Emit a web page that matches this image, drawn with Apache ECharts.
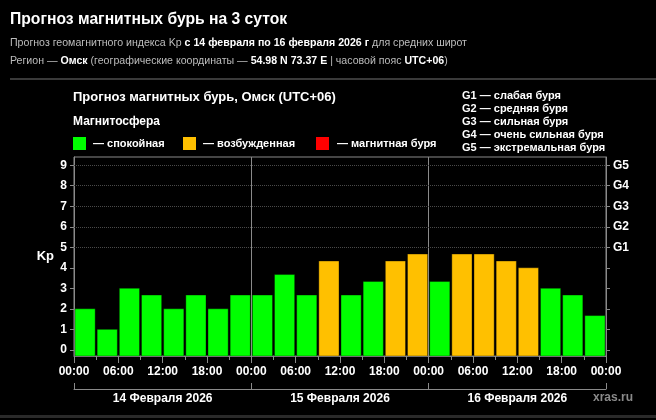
<!DOCTYPE html>
<html>
<head>
<meta charset="utf-8">
<script src="https://cdn.jsdelivr.net/npm/echarts@6/dist/echarts.min.js"></script>
<style>
  html, body { margin: 0; padding: 0; background: #000; }
  #chart { width: 656px; height: 420px; }
</style>
</head>
<body>
<div id="chart"></div>
<script>
// начало каждого 3-часового интервала (часы от 14.02 00:00)
const slotHours = [0, 3, 6, 9, 12, 15, 18, 21, 24, 27, 30, 33, 36, 39, 42, 45, 48, 51, 54, 57, 60, 63, 66, 69];
// прогноз Kp
const kpValues = [
  2, 1, 3, 2.67, 2, 2.67, 2, 2.67,
  2.67, 3.67, 2.67, 4.33, 2.67, 3.33, 4.33, 4.67,
  3.33, 4.67, 4.67, 4.33, 4, 3, 2.67, 1.67
];
const days = ['14 Февраля 2026', '15 Февраля 2026', '16 Февраля 2026'];
const kpTicks = [0, 1, 2, 3, 4, 5, 6, 7, 8, 9];
const gTicks = [5, 6, 7, 8, 9];
const gNames = ['G1', 'G2', 'G3', 'G4', 'G5'];
const daySplits = [24, 48];
const gLegend = [
  'G1 — слабая буря',
  'G2 — средняя буря',
  'G3 — сильная буря',
  'G4 — очень сильная буря',
  'G5 — экстремальная буря'
];

const Y_MIN = -0.3, Y_MAX = 9.4;
const FONT = '"Liberation Sans", Arial, sans-serif';
const GREEN = '#00ff00', ORANGE = '#ffc000', RED = '#ff0000';
const AXIS = '#8a8a8a';

function levelColor(v) {
  if (v >= 5) return RED;
  if (v >= 4) return ORANGE;
  return GREEN;
}

const chart = echarts.init(document.getElementById('chart'));

const sub = {
  n: { fill: '#bdbdbd', font: '10.6px ' + FONT },
  b: { fill: '#fff', font: 'bold 10.6px ' + FONT }
};

const graphic = [
  {
    type: 'text', left: 10, top: 12,
    style: { text: 'Прогноз магнитных бурь на 3 суток', fill: '#fff', font: 'bold 15.7px ' + FONT }
  },
  {
    type: 'text', left: 10, top: 38,
    style: {
      text: '{n|Прогноз геомагнитного индекса Kp }{b|с 14 февраля по 16 февраля 2026 г}{n| для средних широт}',
      rich: sub
    }
  },
  {
    type: 'text', left: 10, top: 56,
    style: {
      text: '{n|Регион — }{b|Омск}{n| (географические координаты — }{b|54.98 N 73.37 E}{n| | часовой пояс }{b|UTC+06}{n|)}',
      rich: sub
    }
  },
  { type: 'rect', shape: { x: 10, y: 78, width: 646, height: 2 }, style: { fill: '#3a3a3a' } },
  { type: 'rect', shape: { x: 0, y: 415, width: 656, height: 3 }, style: { fill: '#2a2a2a' } },
  {
    type: 'text', left: 73, top: 91,
    style: { text: 'Прогноз магнитных бурь, Омск (UTC+06)', fill: '#fff', font: 'bold 13px ' + FONT }
  },
  {
    type: 'text', left: 73, top: 116,
    style: { text: 'Магнитосфера', fill: '#fff', font: 'bold 12px ' + FONT }
  },
  { type: 'rect', shape: { x: 73, y: 137, width: 13, height: 13 }, style: { fill: GREEN } },
  { type: 'text', left: 93, top: 138, style: { text: '— спокойная', fill: '#fff', font: 'bold 11px ' + FONT } },
  { type: 'rect', shape: { x: 183, y: 137, width: 13, height: 13 }, style: { fill: ORANGE } },
  { type: 'text', left: 203, top: 138, style: { text: '— возбужденная', fill: '#fff', font: 'bold 11px ' + FONT } },
  { type: 'rect', shape: { x: 316, y: 137, width: 13, height: 13 }, style: { fill: RED } },
  { type: 'text', left: 337, top: 138, style: { text: '— магнитная буря', fill: '#fff', font: 'bold 11px ' + FONT } },
  {
    type: 'text', left: 462, top: 89,
    style: { text: gLegend.join('\n'), fill: '#fff', font: 'bold 11px ' + FONT, lineHeight: 13 }
  },
  {
    type: 'text', left: 593, top: 392,
    style: { text: 'xras.ru', fill: '#8a8a8a', font: 'bold 12px ' + FONT }
  }
];

const markLines = daySplits.map(x => ({
  xAxis: x, lineStyle: { color: AXIS, width: 1, type: 'solid' }
})).concat(gTicks.map(y => ({
  yAxis: y, lineStyle: { color: '#4a4a4a', width: 1, type: 'dotted' }
})));

chart.setOption({
  backgroundColor: '#000',
  animation: false,
  graphic: graphic,
  grid: {
    left: 74, right: 50, top: 157, bottom: 64,
    show: true, borderColor: AXIS, borderWidth: 1, backgroundColor: 'transparent'
  },
  xAxis: [
    {
      type: 'value', min: 0, max: 72, interval: 6,
      axisLine: { show: true, onZero: false, lineStyle: { color: AXIS } },
      axisTick: { show: true, length: 7, lineStyle: { color: AXIS } },
      minorTick: { show: true, splitNumber: 2, length: 4, lineStyle: { color: AXIS } },
      splitLine: { show: false },
      axisLabel: {
        color: '#fff', fontFamily: FONT, fontWeight: 'bold', fontSize: 12, margin: 10,
        formatter: v => String(v % 24).padStart(2, '0') + ':00'
      }
    },
    {
      type: 'category', data: days, position: 'bottom', offset: 33, boundaryGap: true,
      axisLine: { show: true, onZero: false, lineStyle: { color: AXIS } },
      axisTick: { show: true, inside: true, length: 6, lineStyle: { color: AXIS } },
      axisLabel: { color: '#fff', fontFamily: FONT, fontWeight: 'bold', fontSize: 12, margin: 4 }
    }
  ],
  yAxis: [
    {
      type: 'value', min: Y_MIN, max: Y_MAX, position: 'left',
      name: 'Kp', nameLocation: 'middle', nameRotate: 0, nameGap: 20,
      nameTextStyle: { color: '#fff', fontFamily: FONT, fontWeight: 'bold', fontSize: 13 },
      axisLine: { show: true, onZero: false, lineStyle: { color: AXIS } },
      axisTick: { show: true, length: 4, customValues: kpTicks, lineStyle: { color: AXIS } },
      splitLine: { show: false },
      axisLabel: {
        color: '#fff', fontFamily: FONT, fontWeight: 'bold', fontSize: 12, margin: 7,
        customValues: kpTicks
      }
    },
    {
      type: 'value', min: Y_MIN, max: Y_MAX, position: 'right',
      axisLine: { show: true, onZero: false, lineStyle: { color: AXIS } },
      axisTick: { show: true, length: 4, customValues: kpTicks, lineStyle: { color: AXIS } },
      splitLine: { show: false },
      axisLabel: {
        color: '#fff', fontFamily: FONT, fontWeight: 'bold', fontSize: 12, margin: 7,
        customValues: gTicks,
        formatter: v => gNames[gTicks.indexOf(Math.round(v))] || ''
      }
    }
  ],
  series: [{
    type: 'custom',
    xAxisIndex: 0,
    yAxisIndex: 0,
    data: slotHours.map((h, i) => [h, kpValues[i]]),
    renderItem: (params, api) => {
      const h = api.value(0);
      const v = api.value(1);
      const top = api.coord([h, v]);
      const bot = api.coord([h + 3, Y_MIN]);
      return {
        type: 'rect',
        shape: { x: top[0] + 1, y: top[1], width: bot[0] - top[0] - 2, height: bot[1] - top[1] },
        style: { fill: levelColor(v), stroke: 'rgba(0,0,0,0.35)', lineWidth: 1 }
      };
    },
    markLine: {
      silent: true, symbol: 'none', label: { show: false },
      data: markLines
    }
  }]
});
</script>
</body>
</html>
